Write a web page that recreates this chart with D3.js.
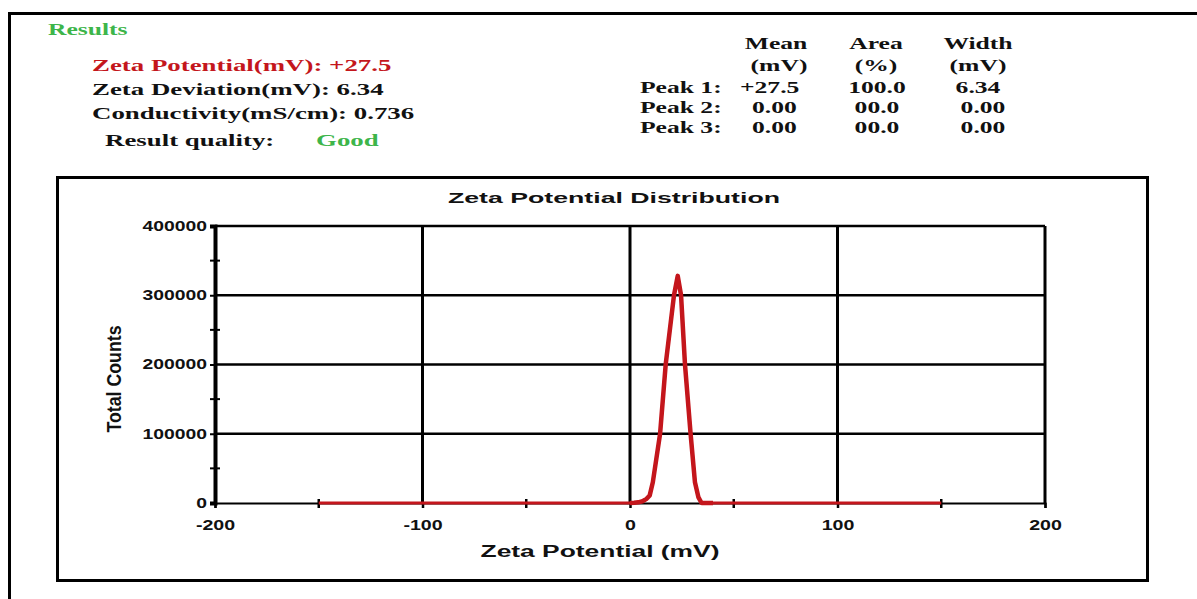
<!DOCTYPE html>
<html>
<head>
<meta charset="utf-8">
<script src="https://d3js.org/d3.v7.min.js"></script>
<style>
  body { margin: 0; background: #fff; }
  svg { display: block; }
</style>
</head>
<body>
<div id="chart"></div>
<script>
// ---- data ----
const zetaMV     = [-150, 0, 2, 4, 6, 8, 9.5, 11, 14.5, 17.2, 21.2, 23, 24.6, 26.5, 29.2, 31.3, 33, 34.5, 40, 150];
const totalCount = [0, 0, 300, 1000, 2500, 6000, 11000, 30000, 100000, 200000, 300000, 328000, 300000, 200000, 100000, 30000, 8000, 0, 0, 0];

const xTicks = [-200, -100, 0, 100, 200];
const xMinor = [-150, -50, 50, 150];
const yTicks = [0, 100000, 200000, 300000, 400000];
const yMinor = [50000, 150000, 250000, 350000];

const summaryLines = [
  "Zeta Potential(mV): +27.5",
  "Zeta Deviation(mV): 6.34",
  "Conductivity(mS/cm): 0.736"
];
const qualityLabel = "Result quality:";
const qualityValue = "Good";

const tableHead1 = ["Mean", "Area", "Width"];
const tableHead2 = ["(mV)", "(%)", "(mV)"];
const peakNames  = ["Peak 1:", "Peak 2:", "Peak 3:"];
const peakMean   = ["+27.5", "0.00", "0.00"];
const peakArea   = ["100.0", "00.0", "00.0"];
const peakWidth  = ["6.34", "0.00", "0.00"];

const W = 1197, H = 599;
const RED = "#c4161c", GREEN = "#3db54a";

const svg = d3.select("#chart").append("svg")
  .attr("width", W).attr("height", H);

// widen text sideways (the picture is stretched horizontally)
function stretch(k) {
  return function(sel) {
    sel.each(function() {
      const t = d3.select(this);
      const x0 = +t.attr("x") || 0;
      t.attr("x", x0 / k).attr("transform", `scale(${k},1)`);
    });
  };
}

// outer frame (left + top edge only visible)
svg.append("path")
  .attr("d", "M9.5,599 L9.5,13.5 L1197,13.5")
  .attr("fill", "none").attr("stroke", "#000").attr("stroke-width", 3);

// ---- header ----
const serif = "'Liberation Serif', 'Times New Roman', serif";
const head = svg.append("g").attr("font-family", serif).attr("font-weight", "bold");
const HK = 1.58;

head.append("text").attr("x", 48).attr("y", 35).attr("font-size", 16)
  .attr("fill", GREEN).text("Results").call(stretch(1.6));

head.selectAll("text.sum").data(summaryLines).join("text")
  .attr("class", "sum")
  .attr("x", 92).attr("y", (d, i) => 71 + i * 24)
  .attr("font-size", 17)
  .attr("fill", (d, i) => i == 0 ? RED : "#111")
  .text(d => d).call(stretch(HK));

head.append("text").attr("x", 105).attr("y", 146).attr("font-size", 17)
  .attr("fill", "#111").text(qualityLabel).call(stretch(HK));
head.append("text").attr("x", 316).attr("y", 146).attr("font-size", 17)
  .attr("fill", GREEN).text(qualityValue).call(stretch(HK));

const TK = 1.6;
const colX = [776, 876, 978];
head.selectAll("text.h1").data(tableHead1).join("text")
  .attr("class", "h1").attr("x", (d, i) => colX[i]).attr("y", 49)
  .attr("text-anchor", "middle").attr("font-size", 16).attr("fill", "#111")
  .text(d => d).call(stretch(TK));
head.selectAll("text.h2").data(tableHead2).join("text")
  .attr("class", "h2").attr("x", (d, i) => colX[i] + (i == 0 ? 3 : 0)).attr("y", 71)
  .attr("text-anchor", "middle").attr("font-size", 16).attr("fill", "#111")
  .text(d => d).call(stretch(TK));

peakNames.forEach((name, i) => {
  const y = 93 + i * 20;
  head.append("text").attr("x", 640).attr("y", y).attr("font-size", 16)
    .attr("fill", "#111").text(name).call(stretch(TK));
  head.append("text").attr("x", 740 + (i > 0 ? 12 : 0)).attr("y", y).attr("font-size", 16)
    .attr("fill", "#111").text(peakMean[i]).call(stretch(TK));
  head.append("text").attr("x", colX[1] + 1).attr("y", y).attr("text-anchor", "middle").attr("font-size", 16)
    .attr("fill", "#111").text(peakArea[i]).call(stretch(TK));
  head.append("text").attr("x", colX[2] + (i > 0 ? 5 : 0)).attr("y", y).attr("text-anchor", "middle").attr("font-size", 16)
    .attr("fill", "#111").text(peakWidth[i]).call(stretch(TK));
});

// ---- chart box ----
svg.append("rect")
  .attr("x", 57.5).attr("y", 177.5).attr("width", 1090).attr("height", 403)
  .attr("fill", "none").attr("stroke", "#000").attr("stroke-width", 3);

const sans = "'Liberation Sans', Arial, sans-serif";

svg.append("text")
  .attr("x", 614).attr("y", 203).attr("text-anchor", "middle")
  .attr("font-family", sans).attr("font-weight", "bold").attr("font-size", 15)
  .attr("fill", "#111").text("Zeta Potential Distribution").call(stretch(1.78));

const x = d3.scaleLinear().domain([-200, 200]).range([215, 1045]);
const y = d3.scaleLinear().domain([0, 400000]).range([503, 226]);

// grid
const grid = svg.append("g").attr("stroke", "#000");
grid.selectAll("line.gy").data(yTicks.slice(1)).join("line")
  .attr("class", "gy")
  .attr("x1", x(-200)).attr("x2", x(200))
  .attr("y1", d => y(d)).attr("y2", d => y(d))
  .attr("stroke-width", 2.5);
grid.selectAll("line.gx").data(xTicks.slice(1)).join("line")
  .attr("class", "gx")
  .attr("x1", d => x(d)).attr("x2", d => x(d))
  .attr("y1", y(400000)).attr("y2", y(0))
  .attr("stroke-width", 3);

// x axis
const xAxis = svg.append("g")
  .attr("transform", `translate(0,${y(0)})`)
  .call(d3.axisBottom(x).tickValues(xTicks).tickSize(5).tickPadding(12).tickFormat(d => String(d)));
xAxis.select(".domain").attr("stroke", "#000").attr("stroke-width", 2);
xAxis.selectAll(".tick line").attr("stroke", "#000").attr("stroke-width", 2.5);
xAxis.selectAll("text")
  .attr("font-family", sans).attr("font-weight", "bold").attr("font-size", 14).attr("fill", "#111")
  .call(stretch(1.4));

svg.append("g").selectAll("line").data(xMinor).join("line")
  .attr("x1", d => x(d)).attr("x2", d => x(d))
  .attr("y1", y(0) - 4).attr("y2", y(0) + 5)
  .attr("stroke", "#000").attr("stroke-width", 2.5);

// y axis
const yAxis = svg.append("g")
  .attr("transform", `translate(${x(-200)},0)`)
  .call(d3.axisLeft(y).tickValues(yTicks).tickSize(5).tickPadding(3).tickFormat(d => String(d)));
yAxis.select(".domain").attr("stroke", "#000").attr("stroke-width", 4);
yAxis.selectAll(".tick line").attr("stroke", "#000").attr("stroke-width", 2);
yAxis.selectAll("text")
  .attr("font-family", sans).attr("font-weight", "bold").attr("font-size", 14).attr("fill", "#111")
  .call(stretch(1.38));

svg.append("g").selectAll("line").data(yMinor).join("line")
  .attr("x1", x(-200) - 5).attr("x2", x(-200) + 5)
  .attr("y1", d => y(d)).attr("y2", d => y(d))
  .attr("stroke", "#000").attr("stroke-width", 2);

// axis titles
svg.append("text")
  .attr("x", 600).attr("y", 557).attr("text-anchor", "middle")
  .attr("font-family", sans).attr("font-weight", "bold").attr("font-size", 16)
  .attr("fill", "#111").text("Zeta Potential (mV)").call(stretch(1.65));

svg.append("text")
  .attr("transform", "translate(121,379) scale(1.5,1) rotate(-90)")
  .attr("text-anchor", "middle")
  .attr("font-family", sans)
  .attr("font-weight", "bold").attr("font-size", 14)
  .attr("textLength", 107).attr("lengthAdjust", "spacingAndGlyphs")
  .attr("fill", "#111").text("Total Counts");

// distribution curve
const pts = zetaMV.map((v, i) => [v, totalCount[i]]);
const line = d3.line()
  .x(d => x(d[0])).y(d => y(d[1]))
  .curve(d3.curveLinear);

svg.append("path")
  .datum(pts)
  .attr("d", line)
  .attr("fill", "none")
  .attr("stroke", RED)
  .attr("stroke-width", 3)
  .attr("stroke-linejoin", "round");

// the peak itself is drawn heavier in the picture
svg.append("path")
  .datum(pts.filter(d => d[0] >= 0 && d[0] <= 40))
  .attr("d", line)
  .attr("fill", "none")
  .attr("stroke", RED)
  .attr("stroke-width", 4.5)
  .attr("stroke-linejoin", "round");
</script>
</body>
</html>
